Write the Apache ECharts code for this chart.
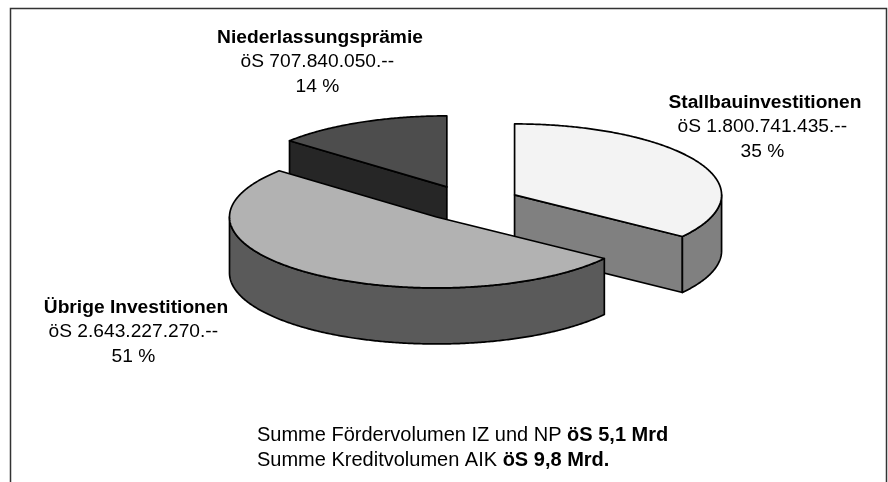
<!DOCTYPE html>
<html>
<head>
<meta charset="utf-8">
<style>
  html, body { margin: 0; padding: 0; background: #fff; }
  #chart { width: 888px; height: 482px; }
</style>
</head>
<body>
<div id="chart"></div>
<script src="https://cdn.jsdelivr.net/npm/echarts@6/dist/echarts.min.js"></script>
<script>
// data
var names = ["Stallbauinvestitionen", "Übrige Investitionen", "Niederlassungsprämie"];
var values = [1800741435, 2643227270, 707840050];
var noteLines = [
  ["Summe Fördervolumen IZ und NP ", "öS 5,1 Mrd"],
  ["Summe Kreditvolumen AIK ", "öS 9,8 Mrd."]
];

// look of the slices, same order as names
var topColors = ["#f3f3f3", "#b2b2b2", "#4d4d4d"];
var sideColors = ["#808080", "#5a5a5a", "#262626"];
var labelPos = [[765, 90], [136, 295], [320, 25]];
var drawOrder = [2, 0, 1]; // back slice first, big front slice last

// pie projection
var centerX = 468.5, centerY = 203, radiusX = 207, radiusY = 71, depth = 56, explode = 0.25;

var total = values.reduce(function (a, b) { return a + b; }, 0);
var FONT = '"Liberation Sans", Arial, sans-serif';

function formatAmount(v) {
  return "öS " + String(v).replace(/\B(?=(\d{3})+$)/g, ".") + ".--";
}

// deg = clockwise from 12 o'clock
function onEllipse(cx, cy, deg, dy) {
  var r = deg * Math.PI / 180;
  return [cx + radiusX * Math.sin(r), cy - radiusY * Math.cos(r) + (dy || 0)];
}

function arcPoints(cx, cy, from, to, dy) {
  var pts = [];
  var steps = Math.max(2, Math.ceil((to - from) * 2));
  for (var i = 0; i <= steps; i++) {
    pts.push(onEllipse(cx, cy, from + (to - from) * i / steps, dy));
  }
  return pts;
}

function face(points, fill) {
  return {
    type: "polygon",
    shape: { points: points },
    style: { fill: fill, stroke: "#000", lineWidth: 1.7, lineJoin: "round" }
  };
}

function renderSlice(params, api) {
  var idx = api.value(0);
  var start = 0;
  for (var i = 0; i < idx; i++) start += values[i] / total * 360;
  var end = start + api.value(1) / total * 360;
  var mid = (start + end) / 2 * Math.PI / 180;
  var cx = centerX + explode * radiusX * Math.sin(mid);
  var cy = centerY - explode * radiusY * Math.cos(mid);
  var children = [];
  var side = sideColors[idx];

  // radial side walls, only the ones turned towards the viewer
  [[start, Math.sin(start * Math.PI / 180) < -1e-6], [end, Math.sin(end * Math.PI / 180) > 1e-6]].forEach(function (e) {
    if (e[1]) {
      var p = onEllipse(cx, cy, e[0]);
      children.push(face([[cx, cy], p, [p[0], p[1] + depth], [cx, cy + depth]], side));
    }
  });
  // outer wall, front half of the ellipse only
  var a = Math.max(start, 90), b = Math.min(end, 270);
  if (b > a) {
    children.push(face(arcPoints(cx, cy, a, b).concat(arcPoints(cx, cy, a, b, depth).reverse()), side));
  }
  // top face
  children.push(face([[cx, cy]].concat(arcPoints(cx, cy, start, end)), topColors[idx]));
  return { type: "group", children: children };
}

var sliceData = drawOrder.map(function (i) { return [i, values[i]]; });

var labelGraphics = names.map(function (name, i) {
  var pct = Math.round(values[i] / total * 100);
  return {
    type: "text",
    x: labelPos[i][0],
    y: labelPos[i][1],
    style: {
      // trailing spaces as in the original, they push the lower lines a bit left
      text: "{b|" + name + "}\n{n|" + formatAmount(values[i]) + " }\n{n|" + pct + " % }",
      align: "center",
      rich: {
        b: { font: "bold 19.2px " + FONT, fill: "#000", lineHeight: 24.5, align: "center" },
        n: { font: "19.2px " + FONT, fill: "#000", lineHeight: 24.5, align: "center" }
      }
    }
  };
});

var noteGraphics = noteLines.map(function (l, i) {
  return {
    type: "text",
    x: 257,
    y: 423 + i * 25,
    style: {
      text: "{n|" + l[0] + "}{b|" + l[1] + "}",
      rich: {
        b: { font: "bold 20px " + FONT, fill: "#000", lineHeight: 25 },
        n: { font: "20px " + FONT, fill: "#000", lineHeight: 25 }
      }
    }
  };
});

var chart = echarts.init(document.getElementById("chart"), null, { renderer: "canvas" });
chart.setOption({
  animation: false,
  backgroundColor: "#fff",
  graphic: [
    {
      type: "polyline",
      shape: { points: [[10.5, 482], [10.5, 8.5], [886.5, 8.5], [886.5, 482]] },
      style: { stroke: "#333", lineWidth: 1.5, fill: null }
    }
  ].concat(labelGraphics, noteGraphics),
  series: [
    {
      type: "custom",
      coordinateSystem: "none",
      renderItem: renderSlice,
      data: sliceData,
      silent: true
    }
  ]
});
</script>
</body>
</html>
